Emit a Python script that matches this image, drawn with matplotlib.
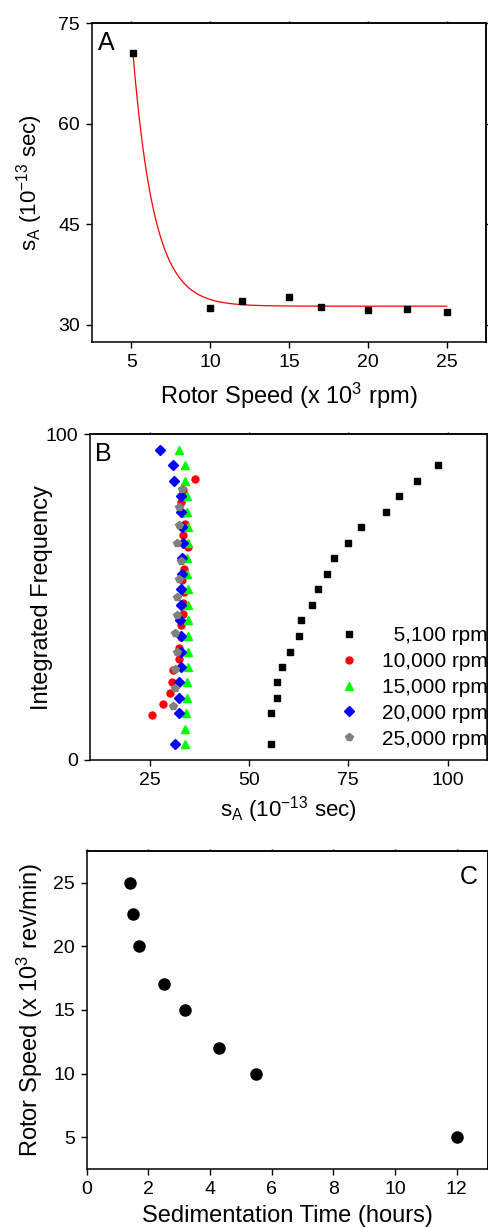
import numpy as np
import matplotlib
matplotlib.use('Agg')
import matplotlib.pyplot as plt

plt.rcParams['font.family'] = ['Liberation Sans', 'DejaVu Sans']
plt.rcParams['mathtext.fontset'] = 'custom'
plt.rcParams['mathtext.rm'] = 'Liberation Sans'
plt.rcParams['mathtext.it'] = 'Liberation Sans:italic'
plt.rcParams['mathtext.default'] = 'regular'

# ---------------- Panel A data ----------------
speed_a = [5.1, 10, 12, 15, 17, 20, 22.5, 25]
sA_a = [70.5, 32.6, 33.5, 34.1, 32.7, 32.2, 32.35, 32.0]
# exponential-decay fit parameters (red curve)
fit_plateau = 32.8
fit_amp = 37.7
fit_x0 = 5.1
fit_tau = 1.35

# ---------------- Panel B data ----------------
labels_b = ['\u20075,100 rpm', '10,000 rpm', '15,000 rpm', '20,000 rpm', '25,000 rpm']

s_5100 = [55.5, 55.65, 57.0, 57.1, 58.4, 60.2, 62.6, 63.0, 65.8, 67.4,
          69.6, 71.5, 74.9, 78.1, 84.5, 87.7, 92.2, 97.5]
f_5100 = [4.8, 14.3, 19.0, 23.8, 28.6, 33.3, 38.1, 42.9, 47.6, 52.4,
          57.1, 61.9, 66.7, 71.4, 76.2, 81.0, 85.7, 90.5]

s_10000 = [25.7, 28.3, 30.1, 30.6, 31.0, 32.3, 32.3, 32.8, 33.0, 33.4, 33.4,
           33.6, 33.2, 33.7, 33.5, 34.7, 33.4, 33.9, 33.3, 32.9, 33.4, 36.3]
f_10000 = [13.8, 17.2, 20.7, 24.1, 27.6, 31.0, 34.5, 37.9, 41.4, 44.8, 48.3,
           51.7, 55.2, 58.6, 62.1, 65.5, 69.0, 72.4, 75.9, 79.3, 82.8, 86.2]

s_15000 = [33.85, 33.8, 34.2, 34.3, 34.4, 34.6, 34.7, 34.7, 34.6, 34.6,
           34.6, 34.5, 34.4, 34.7, 34.6, 34.4, 34.3, 33.9, 34.0, 32.3]
f_15000 = [4.8, 9.5, 14.3, 19.0, 23.8, 28.6, 33.3, 38.1, 42.9, 47.6,
           52.4, 57.1, 61.9, 66.7, 71.4, 76.2, 81.0, 85.7, 90.5, 95.2]

s_20000 = [31.3, 32.3, 32.5, 32.5, 32.85, 32.9, 33.0, 32.7, 32.85, 32.85,
           33.2, 33.1, 33.35, 33.2, 32.9, 32.9, 31.2, 30.8, 27.7]
f_20000 = [4.8, 14.3, 19.0, 23.8, 28.6, 33.3, 38.1, 42.9, 47.6, 52.4,
           57.1, 61.9, 66.7, 71.4, 76.2, 81.0, 85.7, 90.5, 95.2]

s_25000 = [30.8, 31.3, 31.5, 31.8, 31.5, 31.8, 31.8, 32.3, 32.85, 31.8,
           32.3, 32.5, 33.2]
f_25000 = [16.7, 22.2, 27.8, 33.3, 38.9, 44.4, 50.0, 55.6, 61.1, 66.7,
           72.2, 77.8, 83.3]

# ---------------- Panel C data ----------------
time_c = [1.4, 1.5, 1.7, 2.5, 3.2, 4.3, 5.5, 12.0]
speed_c = [25, 22.5, 20, 17, 15, 12, 10, 5]

W, H = 489, 1227
fig = plt.figure(figsize=(W / 100, H / 100), dpi=100)


def rect(l, r, t, b):
    return [l / W, 1 - b / H, (r - l) / W, (b - t) / H]


TICK_FS = 14
LABEL_FS = 17
SA_FS = 16
LEG_FS = 15
PANEL_FS = 18


def style(ax):
    for s in ax.spines.values():
        s.set_linewidth(1.1)
    ax.tick_params(direction='out', length=4.5, width=1.0,
                   labelsize=TICK_FS, pad=4)
    sx = ax.secondary_xaxis('top')
    sx.tick_params(direction='out', length=1.8, width=1.0, labelsize=0)
    sx.set_xticks(ax.get_xticks())
    sx.set_xticklabels([])
    sy = ax.secondary_yaxis('right')
    sy.tick_params(direction='out', length=1.8, width=1.0, labelsize=0)
    sy.set_yticks(ax.get_yticks())
    sy.set_yticklabels([])
    for sp in list(sx.spines.values()) + list(sy.spines.values()):
        sp.set_linewidth(1.1)


# ---------------- Panel A ----------------
axA = fig.add_axes(rect(92, 486, 23.3, 341.7))
xfit = np.linspace(fit_x0, max(speed_a), 300)
yfit = fit_plateau + fit_amp * np.exp(-(xfit - fit_x0) / fit_tau)
axA.plot(xfit, yfit, color='#ff0000', lw=0.9, zorder=2)
axA.plot(speed_a, sA_a, 's', color='black', ms=5.0, zorder=3)
axA.set_xlim(2.5, 27.5)
axA.set_ylim(27.5, 75)
axA.set_xticks([5, 10, 15, 20, 25])
axA.set_yticks([30, 45, 60, 75])
style(axA)
axA.set_xlabel(r'Rotor Speed (x 10$^{3}$ rpm)', fontsize=LABEL_FS, va='top')
axA.xaxis.set_label_coords(0.5, -0.122)
axA.set_ylabel(r's$_{A}$ (10$^{-13}$ sec)', fontsize=SA_FS)
axA.yaxis.set_label_coords(-0.12, 0.5)
axA.text(0.015, 0.975, 'A', transform=axA.transAxes, fontsize=PANEL_FS,
         ha='left', va='top')

# ---------------- Panel B ----------------
axB = fig.add_axes(rect(90, 487.5, 434.3, 760))
axB.plot(s_5100, f_5100, 's', color='black', ms=4.2, label=labels_b[0], zorder=3)
axB.plot(s_10000, f_10000, 'o', color='#ff0000', ms=5.0, label=labels_b[1], zorder=3)
axB.plot(s_15000, f_15000, '^', color='#00ff00', ms=5.8, label=labels_b[2], zorder=3)
axB.plot(s_20000, f_20000, 'D', color='#0000ff', ms=5.0, label=labels_b[3], zorder=3)
axB.plot(s_25000, f_25000, 'p', color='#808080', ms=6.0, label=labels_b[4], zorder=3)
axB.set_xlim(10, 110)
axB.set_ylim(0, 100)
axB.set_xticks([25, 50, 75, 100])
axB.set_yticks([0, 100])
style(axB)
axB.set_xlabel(r's$_{A}$ (10$^{-13}$ sec)', fontsize=SA_FS, va='top')
axB.xaxis.set_label_coords(0.5, -0.105)
axB.set_ylabel('Integrated Frequency', fontsize=LABEL_FS)
axB.yaxis.set_label_coords(-0.092, 0.5)
axB.text(0.013, 0.975, 'B', transform=axB.transAxes, fontsize=PANEL_FS,
         ha='left', va='top')
axB.legend(loc='lower right', bbox_to_anchor=(1.0, 0.035), frameon=False,
           fontsize=LEG_FS, handlelength=1.6, handletextpad=0.75,
           labelspacing=0.33, borderaxespad=0.0, borderpad=0.0)

# ---------------- Panel C ----------------
axC = fig.add_axes(rect(86.7, 487.7, 850.7, 1169))
axC.plot(time_c, speed_c, 'o', color='black', ms=8.0, zorder=3)
axC.set_xlim(0, 13)
axC.set_ylim(2.5, 27.5)
axC.set_xticks([0, 2, 4, 6, 8, 10, 12])
axC.set_yticks([5, 10, 15, 20, 25])
style(axC)
axC.set_xlabel('Sedimentation Time (hours)', fontsize=LABEL_FS, va='top')
axC.xaxis.set_label_coords(0.5, -0.112)
axC.set_ylabel(r'Rotor Speed (x 10$^{3}$ rev/min)', fontsize=LABEL_FS)
axC.yaxis.set_label_coords(-0.105, 0.5)
axC.text(0.975, 0.955, 'C', transform=axC.transAxes, fontsize=PANEL_FS,
         ha='right', va='top')

fig.savefig('out.png', dpi=100)
